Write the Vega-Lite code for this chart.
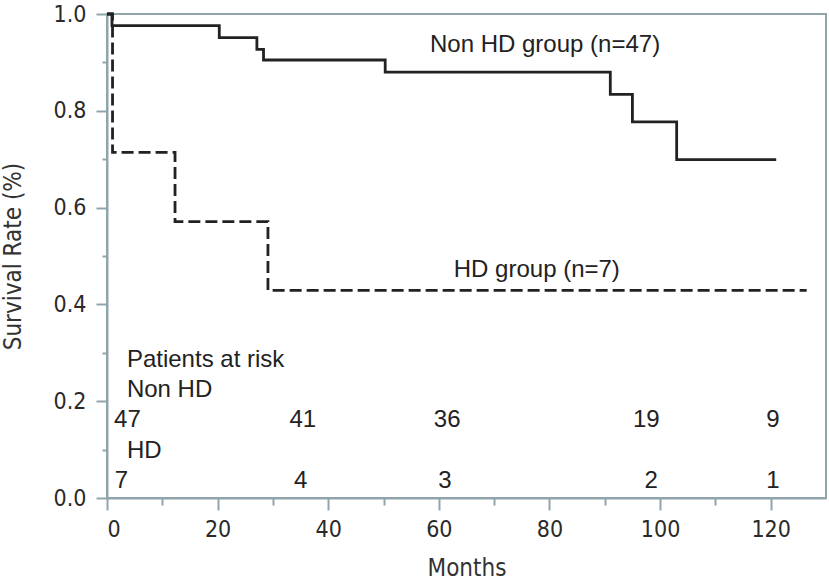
{
  "$schema": "https://vega.github.io/schema/vega-lite/v6.json",
  "width": 719,
  "height": 484,
  "autosize": {"type": "none"},
  "padding": {"left": 107, "top": 14, "right": 3, "bottom": 83},
  "background": "white",
  "config": {
    "view": {"stroke": "#90a4ae", "strokeWidth": 2},
    "axis": {
      "domainColor": "#90a4ae",
      "domainWidth": 2,
      "tickColor": "#90a4ae",
      "tickWidth": 2,
      "grid": false,
      "labelFont": "DejaVu Sans Condensed, DejaVu Sans",
      "labelFontSize": 23,
      "labelColor": "#2a2a2a",
      "titleFont": "DejaVu Sans Condensed, DejaVu Sans",
      "titleFontSize": 24,
      "titleFontWeight": "normal",
      "titleColor": "#333333"
    }
  },
  "datasets": {
    "curves": [
      {"group": "Non HD", "month": 0, "rate": 1.0},
      {"group": "Non HD", "month": 0.9, "rate": 0.976},
      {"group": "Non HD", "month": 20.3, "rate": 0.951},
      {"group": "Non HD", "month": 27.1, "rate": 0.927},
      {"group": "Non HD", "month": 28.3, "rate": 0.905},
      {"group": "Non HD", "month": 50.3, "rate": 0.88},
      {"group": "Non HD", "month": 91, "rate": 0.834},
      {"group": "Non HD", "month": 95, "rate": 0.777},
      {"group": "Non HD", "month": 103, "rate": 0.699},
      {"group": "Non HD", "month": 121, "rate": 0.699},
      {"group": "HD", "month": 0, "rate": 1.0},
      {"group": "HD", "month": 1.0, "rate": 0.714},
      {"group": "HD", "month": 12.3, "rate": 0.571},
      {"group": "HD", "month": 29.1, "rate": 0.429},
      {"group": "HD", "month": 126.5, "rate": 0.429}
    ],
    "labels": [
      {"text": "Non HD group (n=47)", "month": 58.4, "rate": 0.922},
      {"text": "HD group (n=7)", "month": 62.7, "rate": 0.457},
      {"text": "Patients at risk", "month": 3.6, "rate": 0.270},
      {"text": "Non HD", "month": 3.6, "rate": 0.208},
      {"text": "HD", "month": 3.6, "rate": 0.082}
    ],
    "risk": [
      {"n": "47", "month": 3.7, "rate": 0.146},
      {"n": "41", "month": 35.4, "rate": 0.146},
      {"n": "36", "month": 61.5, "rate": 0.146},
      {"n": "19", "month": 97.5, "rate": 0.146},
      {"n": "9", "month": 120.4, "rate": 0.146},
      {"n": "7", "month": 2.6, "rate": 0.020},
      {"n": "4", "month": 35.0, "rate": 0.020},
      {"n": "3", "month": 61.1, "rate": 0.020},
      {"n": "2", "month": 98.4, "rate": 0.020},
      {"n": "1", "month": 120.4, "rate": 0.020}
    ]
  },
  "layer": [
    {
      "data": {"name": "curves"},
      "mark": {"type": "line", "interpolate": "step-after", "strokeWidth": 2.8, "color": "#222222"},
      "encoding": {
        "x": {
          "field": "month", "type": "quantitative",
          "scale": {"domain": [0, 130], "nice": false, "zero": false},
          "axis": {
            "values": [0, 10, 20, 30, 40, 50, 60, 70, 80, 90, 100, 110, 120],
            "labelExpr": "round(datum.value) % 20 == 0 ? datum.label : ''",
            "tickSize": {"condition": {"test": "round(datum.value) % 20 == 0", "value": 12}, "value": 7},
            "labelPadding": 8,
            "title": "Months",
            "titlePadding": 15
          }
        },
        "y": {
          "field": "rate", "type": "quantitative",
          "scale": {"domain": [0, 1], "nice": false},
          "axis": {
            "values": [0, 0.1, 0.2, 0.3, 0.4, 0.5, 0.6, 0.7, 0.8, 0.9, 1.0],
            "labelExpr": "round(datum.value * 10) % 2 == 0 ? format(datum.value, '.1f') : ''",
            "tickSize": {"condition": {"test": "round(datum.value * 10) % 2 == 0", "value": 11}, "value": 5},
            "labelPadding": 10,
            "title": "Survival Rate (%)",
            "titlePadding": 28
          }
        },
        "detail": {"field": "group"},
        "strokeDash": {
          "field": "group", "type": "nominal",
          "scale": {"domain": ["Non HD", "HD"], "range": [[1, 0], [12, 5]]},
          "legend": null
        }
      }
    },
    {
      "data": {"name": "labels"},
      "mark": {"type": "text", "align": "left", "baseline": "alphabetic", "font": "Liberation Sans", "fontSize": 24, "color": "#222222"},
      "encoding": {
        "x": {"field": "month", "type": "quantitative"},
        "y": {"field": "rate", "type": "quantitative"},
        "text": {"field": "text"}
      }
    },
    {
      "data": {"name": "risk"},
      "mark": {"type": "text", "align": "center", "baseline": "alphabetic", "font": "Liberation Sans", "fontSize": 24, "color": "#222222"},
      "encoding": {
        "x": {"field": "month", "type": "quantitative"},
        "y": {"field": "rate", "type": "quantitative"},
        "text": {"field": "n"}
      }
    }
  ]
}
